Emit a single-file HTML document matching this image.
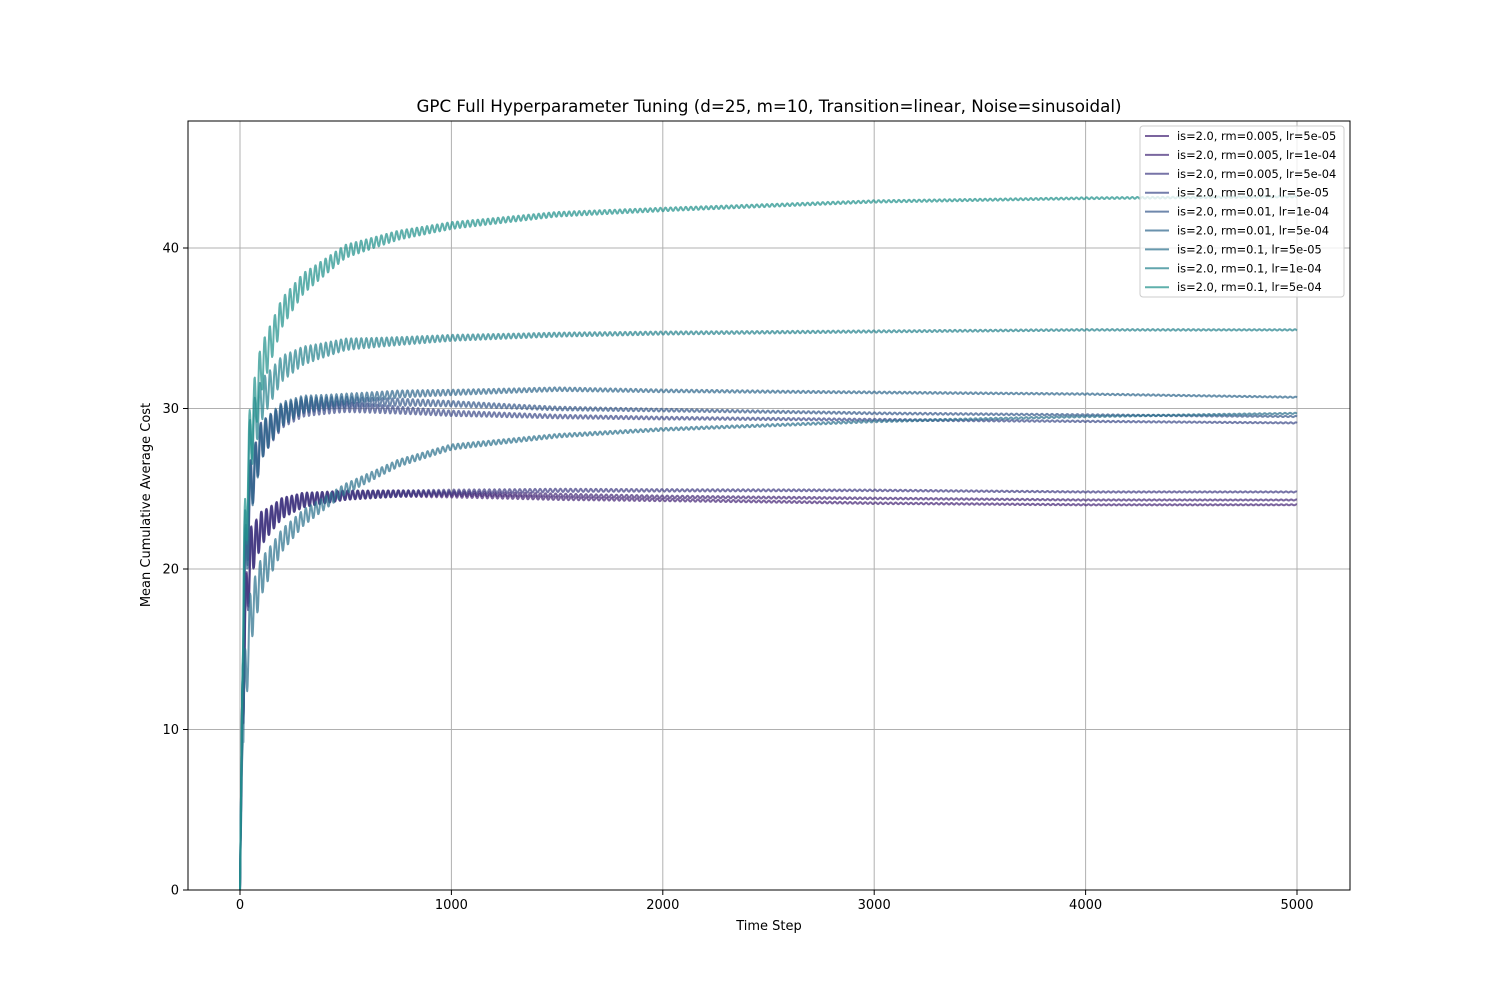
<!DOCTYPE html>
<html><head><meta charset="utf-8"><style>
body{margin:0;background:#fff;}
svg{display:block;font-family:"DejaVu Sans","Liberation Sans",sans-serif;}
</style></head><body>
<svg id="chart" width="1500" height="1000">
<rect x="0" y="0" width="1500" height="1000" fill="#fff"/>
<text x="769" y="112" text-anchor="middle" font-size="16.7">GPC Full Hyperparameter Tuning (d=25, m=10, Transition=linear, Noise=sinusoidal)</text>
<g id="grid"></g><g id="series"></g>
<rect x="188" y="121" width="1162" height="769" fill="none" stroke="#000" stroke-width="1"/>
<g id="axes"></g>
<text x="769" y="930" text-anchor="middle" font-size="13">Time Step</text>
<text transform="translate(150,505) rotate(-90)" text-anchor="middle" font-size="13">Mean Cumulative Average Cost</text>
<g id="legend"></g>
</svg>
<script>
const xTicks=[0,1000,2000,3000,4000,5000];
const yTicks=[0,10,20,30,40];
const timePoints=[0,10,25,50,100,200,300,500,750,1000,1500,2000,3000,4000,5000];
const labels=["is=2.0, rm=0.005, lr=5e-05","is=2.0, rm=0.005, lr=1e-04","is=2.0, rm=0.005, lr=5e-04","is=2.0, rm=0.01, lr=5e-05","is=2.0, rm=0.01, lr=1e-04","is=2.0, rm=0.01, lr=5e-04","is=2.0, rm=0.1, lr=5e-05","is=2.0, rm=0.1, lr=1e-04","is=2.0, rm=0.1, lr=5e-04"];
const s1=[0,10,17,21,22.5,23.8,24.3,24.6,24.7,24.6,24.4,24.3,24.1,24.0,24.0];
const s2=[0,10,17,21,22.5,23.8,24.3,24.6,24.7,24.7,24.6,24.5,24.4,24.3,24.3];
const s3=[0,10,17,21,22.5,23.8,24.3,24.6,24.7,24.8,24.9,24.9,24.9,24.8,24.8];
const s4=[0,12,20,25,28,29.5,30,30.1,29.9,29.7,29.5,29.4,29.3,29.2,29.1];
const s5=[0,12,20,25,28,29.6,30.2,30.4,30.4,30.3,30.0,29.9,29.7,29.6,29.5];
const s6=[0,12,20,25,28,29.7,30.3,30.6,30.9,31.0,31.2,31.1,31.0,30.9,30.7];
const s7=[0,8,13,17,19.5,21.8,23.2,25,26.6,27.6,28.3,28.7,29.2,29.5,29.7];
const s8=[0,12,22,28,30.5,32.5,33.3,34,34.2,34.4,34.6,34.7,34.8,34.9,34.9];
const s9=[0,12,23,28.5,32.5,36,37.8,39.8,40.8,41.4,42.1,42.4,42.9,43.1,43.2];
const oscAmp=[1.6,1.6,1.6,1.8,1.8,1.8,1.8,2.0,2.3];
const colors=['#482878','#472c7a','#433e85','#3e4c8a','#375a8c','#31688e','#2c728e','#26828e','#21918c'];
const allSeries=[s1,s2,s3,s4,s5,s6,s7,s8,s9];
const NS='http://www.w3.org/2000/svg';
const X=t=>240+t*(1297-240)/5000;
const Y=v=>890-v*(890-248)/40;
function mk(tag,attrs,parent){const e=document.createElementNS(NS,tag);for(const k in attrs)e.setAttribute(k,attrs[k]);parent.appendChild(e);return e;}
const grid=document.getElementById('grid'),axes=document.getElementById('axes');
xTicks.forEach(t=>{
 const g=mk('line',{x1:X(t),x2:X(t),y1:121,y2:890,stroke:'#b0b0b0','stroke-width':1},grid);
 
 
 mk('line',{x1:X(t),x2:X(t),y1:890,y2:895,stroke:'#000'},axes);
 const tx=mk('text',{x:X(t),y:909,'text-anchor':'middle','font-size':13},axes);tx.textContent=t;
 
 
});
yTicks.forEach(v=>{
 const g=mk('line',{x1:188,x2:1350,y1:Y(v),y2:Y(v),stroke:'#b0b0b0','stroke-width':1},grid);
 
 
 mk('line',{x1:183,x2:188,y1:Y(v),y2:Y(v),stroke:'#000'},axes);
 const tx=mk('text',{x:179,y:Y(v)+4.5,'text-anchor':'end','font-size':13},axes);tx.textContent=v;
 
 
});
function interp(arr,t){for(let i=1;i<timePoints.length;i++){if(t<=timePoints[i]){const a=timePoints[i-1],b=timePoints[i];return arr[i-1]+(arr[i]-arr[i-1])*(t-a)/(b-a);}}return arr[arr.length-1];}
const sg=document.getElementById('series');
allSeries.forEach((arr,k)=>{
 let d='';
 for(let t=0;t<=5000;t+=2){
  const m=interp(arr,t);
  const amp=t<15?0:oscAmp[k]*100/(t+50);
  const v=m+amp*Math.sin(2*Math.PI*t/24+k*0.3);
  d+=(t?'L':'M')+X(t).toFixed(1)+' '+Y(v).toFixed(1);
 }
 const p=mk('path',{d:d,fill:'none',stroke:colors[k],'stroke-width':2,'stroke-opacity':0.72,'stroke-linejoin':'round'},sg);
 
 
});
const lg=document.getElementById('legend');
const box=mk('rect',{x:1140,y:126,width:204,height:171,rx:3,fill:'#fff','fill-opacity':0.8,stroke:'#ccc'},lg);


labels.forEach((l,k)=>{
 const y=136+k*18.9;
 const ln=mk('line',{x1:1145,x2:1169,y1:y,y2:y,stroke:colors[k],'stroke-width':2,'stroke-opacity':0.72},lg);
 
 
 const tx=mk('text',{x:1177,y:y+4,'font-size':11.4},lg);tx.textContent=l;
 
 
});
</script>
</body></html>
